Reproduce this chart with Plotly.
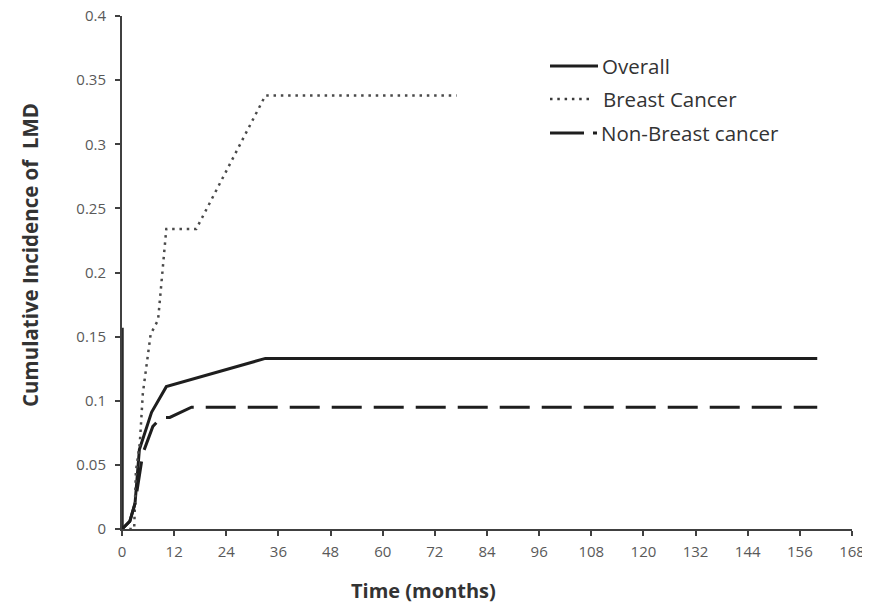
import plotly.graph_objects as go

# Data
overall_t = [0, 1.8, 3, 4, 6.8, 10.2, 33, 160]
overall_v = [0, 0.006, 0.02, 0.062, 0.091, 0.111, 0.133, 0.133]

breast_t = [0, 2.8, 3.2, 4.1, 4.8, 6.6, 8.3, 10.2, 17.1, 33, 77]
breast_v = [0, 0, 0.045, 0.067, 0.106, 0.152, 0.163, 0.234, 0.234, 0.338, 0.338]

nonbreast_t = [0, 1.8, 3, 4.8, 7.1, 9.1, 11, 16, 160]
nonbreast_v = [0, 0.006, 0.02, 0.059, 0.08, 0.087, 0.087, 0.095, 0.095]

# vertical step drawn along the y axis at time 0 in the reference
start_step_t = [0, 0]
start_step_v = [0, 0.157]

x_ticks = list(range(0, 169, 12))
y_ticks = [0, 0.05, 0.1, 0.15, 0.2, 0.25, 0.3, 0.35, 0.4]
y_tick_text = ["0", "0.05", "0.1", "0.15", "0.2", "0.25", "0.3", "0.35", "0.4"]

series_names = ["Overall", "Breast Cancer", "Non-Breast cancer"]

# styles
SOLID = dict(color="#1e1e1e", width=3)
DOTTED = dict(color="#4a4a4a", width=2.5, dash="2.5px,4.8px")
DASHED = dict(color="#1e1e1e", width=3, dash="30px,12px")

fig = go.Figure()
fig.add_trace(go.Scatter(x=start_step_t, y=start_step_v, mode="lines", showlegend=False,
                         line=dict(color="#2a2a2a", width=3.5), cliponaxis=False))
fig.add_trace(go.Scatter(x=overall_t, y=overall_v, mode="lines", name=series_names[0], line=SOLID))
fig.add_trace(go.Scatter(x=breast_t, y=breast_v, mode="lines", name=series_names[1], line=DOTTED))
fig.add_trace(go.Scatter(x=nonbreast_t, y=nonbreast_v, mode="lines", name=series_names[2], line=DASHED))

# page offset (body margin) compensation
OFF = 8
W, H = 870 - OFF, 605 - OFF
L, R, T, B = 122 - OFF, 18, 16 - OFF, 76
PW = W - L - R
PH = H - T - B


def px_x(sx):
    return (sx - 122) / PW


def px_y(sy):
    return (529 - sy) / PH


FONT = "Open Sans, Liberation Sans, sans-serif"
axis_font = dict(family=FONT, size=15, color="#595959")

# manual legend (layout only)
legend_rows = [
    (series_names[0], dict(color="#1e1e1e", width=3), 550, 598, 600, 66),
    (series_names[1], dict(color="#3a3a3a", width=2.5, dash="2.5px,4.8px"), 550, 592, 601, 99),
    (series_names[2], dict(color="#1e1e1e", width=3, dash="34px,9px"), 550, 597, 599, 133),
]
shapes = []
annotations = []
for name, ln, x0, x1, tx, ty in legend_rows:
    shapes.append(dict(type="line", xref="paper", yref="paper",
                       x0=px_x(x0), x1=px_x(x1), y0=px_y(ty), y1=px_y(ty), line=ln))
    annotations.append(dict(text=name, xref="paper", yref="paper", x=px_x(tx), y=px_y(ty),
                            xanchor="left", yanchor="middle", showarrow=False,
                            font=dict(family=FONT, size=20.5, color="#333333")))

annotations.append(dict(text="<b>Time (months)</b>", xref="paper", yref="paper",
                        x=px_x(423), y=px_y(591), xanchor="center", yanchor="middle",
                        showarrow=False, font=dict(family=FONT, size=20, color="#333333")))
annotations.append(dict(text="<b>Cumulative Incidence of  LMD</b>", xref="paper", yref="paper",
                        x=px_x(30), y=px_y(255), xanchor="center", yanchor="middle",
                        textangle=-90, showarrow=False,
                        font=dict(family=FONT, size=20.5, color="#333333")))

fig.update_layout(
    width=W, height=H,
    margin=dict(l=L, r=R, t=T, b=B, autoexpand=False),
    paper_bgcolor="white", plot_bgcolor="white",
    font=dict(family=FONT, color="#333333"),
    showlegend=False,
    xaxis=dict(range=[0, 168], tickvals=x_ticks, ticktext=[str(v) for v in x_ticks],
               automargin=False,
               showgrid=False, zeroline=False, showline=True, linecolor="#404040", linewidth=2,
               ticks="outside", ticklen=5, tickwidth=2, tickcolor="#404040",
               ticklabelstandoff=3, ticklabeloverflow="allow", tickfont=axis_font),
    yaxis=dict(range=[0, 0.4], tickvals=y_ticks, ticktext=y_tick_text,
               automargin=False,
               showgrid=False, zeroline=False, showline=True, linecolor="#404040", linewidth=2,
               ticks="outside", ticklen=5, tickwidth=2, tickcolor="#404040",
               ticklabelstandoff=6, ticklabeloverflow="allow", tickfont=axis_font),
    shapes=shapes,
    annotations=annotations,
)

fig.write_html("out.html")
